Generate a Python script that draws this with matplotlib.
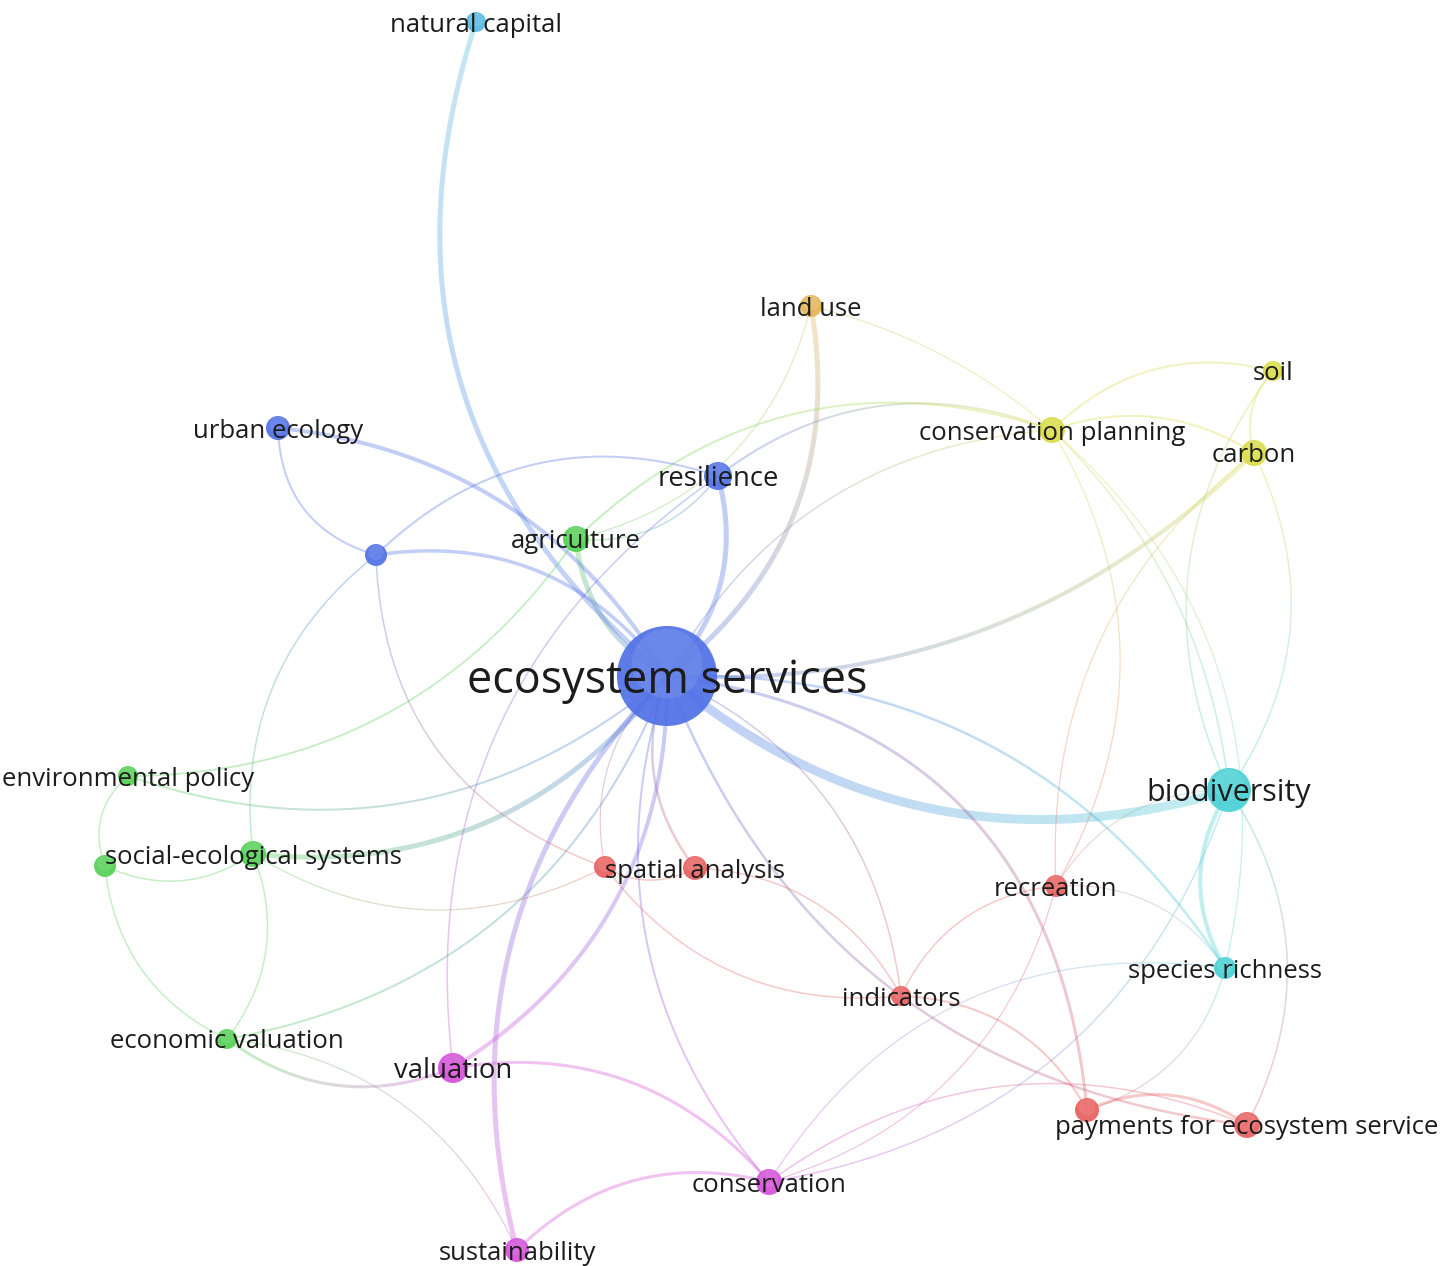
import numpy as np
import matplotlib
matplotlib.use("Agg")
import matplotlib.pyplot as plt
from matplotlib.collections import LineCollection
from matplotlib.patches import Circle
from matplotlib.colors import to_rgb

# nodes (map coordinates, y grows downwards)
node_labels = ["ecosystem services", "natural capital", "land use", "soil",
               "conservation planning", "carbon", "urban ecology", "resilience",
               "", "agriculture", "environmental policy", "social-ecological systems",
               "", "economic valuation", "valuation", "sustainability", "conservation",
               "spatial analysis", "", "recreation", "indicators", "species richness",
               "biodiversity", "", "payments for ecosystem service"]
node_x = [667, 476, 811, 1273, 1052, 1254, 278, 718, 376, 576, 128, 253, 105, 227,
          453, 517, 769, 695, 605, 1056, 901, 1225, 1229, 1087, 1247]
node_y = [676, 22, 306, 371, 430, 453, 428, 476, 555, 539, 776, 854, 866, 1039,
          1068, 1250, 1182, 868, 867, 886, 996, 968, 790, 1110, 1125]
node_weight = [50, 10, 11, 10, 13, 13, 12, 14, 11, 13, 10, 13, 11, 10,
               15, 12, 13, 12, 11, 11, 10, 11, 22, 12, 13]
node_cluster = [3, 8, 7, 4, 4, 4, 3, 3, 3, 2, 2, 2, 2, 2,
                5, 5, 5, 1, 1, 1, 1, 6, 6, 1, 1]

# links
edge_src = [0, 0, 0, 0, 0, 0, 8, 6, 8, 8, 9, 7, 9, 9, 10, 10, 11, 13,
            0, 0, 0, 0, 0, 0, 0, 18, 20, 17, 20, 16, 23, 16, 16, 16,
            4, 5, 4, 4, 3, 5, 22, 19, 19, 22, 21, 4, 4, 3, 2,
            0, 0, 18, 11, 10, 12, 12, 11, 13, 13, 0, 0, 0, 14, 15, 14]
edge_dst = [1, 2, 7, 9, 6, 8, 7, 8, 11, 18, 4, 4, 2, 7, 9, 0, 0, 0,
            22, 5, 4, 21, 23, 24, 20, 20, 19, 20, 23, 24, 24, 19, 21, 22,
            19, 19, 22, 21, 22, 22, 21, 22, 21, 24, 23, 3, 5, 5, 4,
            17, 18, 17, 18, 12, 11, 13, 13, 14, 15, 14, 15, 16, 16, 16, 7]
edge_weight = [5, 5, 5, 5, 4, 3.5, 2, 2, 1.5, 1.5, 2, 2, 1.2, 1.5, 1.8, 2, 5, 2,
               9, 4, 1.5, 2.5, 3, 2.5, 1.5, 1.5, 1.5, 1.5, 2, 1.5, 3, 1.2, 1.2, 1.5,
               1.2, 1.2, 1.5, 1.2, 1.5, 1.5, 4, 1, 1, 1.5, 1.2, 2, 2, 2, 1.2,
               2.5, 1.2, 1.5, 1.2, 1.5, 1.5, 1.5, 1.5, 3, 1.2, 4, 5, 2, 3, 3, 1.5]
# curvature of each link (signed sagitta / chord length)
edge_bend = [-0.17, 0.15, 0.14, -0.13, 0.125, 0.15, -0.15, 0.18, 0.14, 0.17, -0.15, -0.14,
             0.15, 0.14, 0.13, 0.14, 0.14, 0.14,
             0.135, 0.11, -0.135, -0.14, -0.2, 0.15, -0.14, 0.14, -0.14, -0.14, -0.14,
             -0.14, -0.14, 0.14, -0.16, 0.15,
             -0.145, 0.13, -0.09, -0.15, 0.15, -0.145, 0.15, -0.14, -0.14, -0.146, -0.14,
             -0.14, -0.12, 0.14, -0.06,
             0.14, 0.14, 0.14, 0.14, 0.17, 0.14, 0.14, -0.14, 0.14, -0.14,
             -0.14, 0.14, 0.14, -0.14, -0.14, -0.15]

cluster_colors = {1: '#e8605f', 2: '#55d055', 3: '#5071e6', 4: '#d9dc45',
                  5: '#d44fd8', 6: '#48d0d3', 7: '#e2b455', 8: '#55bbe2'}

W, H = 1452, 1266
fig = plt.figure(figsize=(W / 100, H / 100), dpi=100)
ax = fig.add_axes([0, 0, 1, 1])
ax.set_xlim(0, W)
ax.set_ylim(H, 0)
ax.set_aspect('equal')
ax.axis('off')

px = 72 / 100  # points per pixel

order = np.argsort(edge_weight)[::-1]
t = np.linspace(0, 1, 120)
for k in order:
    a, b = edge_src[k], edge_dst[k]
    p0 = np.array([node_x[a], node_y[a]], float)
    p2 = np.array([node_x[b], node_y[b]], float)
    d = p2 - p0
    L = np.hypot(*d)
    n = np.array([-d[1], d[0]]) / L
    c = (p0 + p2) / 2 + 2 * edge_bend[k] * L * n
    pts = ((1 - t)[:, None] ** 2) * p0 + (2 * (1 - t) * t)[:, None] * c + (t[:, None] ** 2) * p2
    segs = np.stack([pts[:-1], pts[1:]], axis=1)
    ca = np.array(to_rgb(cluster_colors[node_cluster[a]]))
    cb = np.array(to_rgb(cluster_colors[node_cluster[b]]))
    tm = (t[:-1] + t[1:]) / 2
    cols = (1 - tm)[:, None] * ca + tm[:, None] * cb
    cols = np.hstack([cols, np.full((len(cols), 1), 0.35)])
    lc = LineCollection(segs, colors=cols, linewidths=edge_weight[k] * px,
                        capstyle='butt', zorder=1)
    ax.add_collection(lc)

for i in range(len(node_x)):
    col = np.array(to_rgb(cluster_colors[node_cluster[i]]))
    r = node_weight[i]
    ax.add_patch(Circle((node_x[i], node_y[i]), r, facecolor=col, edgecolor='none',
                        alpha=0.92, zorder=2))
    light = col + (1 - col) * 0.35
    ax.add_patch(Circle((node_x[i], node_y[i] - r * 0.25), r * 0.7, facecolor=light,
                        edgecolor='none', alpha=0.3, zorder=2))

label_size = {0: 32.3, 22: 22, 14: 19.8, 7: 19.8}
for i, lab in enumerate(node_labels):
    if not lab:
        continue
    ax.text(node_x[i], node_y[i], lab, ha='center', va='center_baseline',
            fontsize=label_size.get(i, 18.5), family='Open Sans', color='#1c1c1c',
            zorder=3)

fig.savefig('out.png', dpi=100, facecolor='white')
